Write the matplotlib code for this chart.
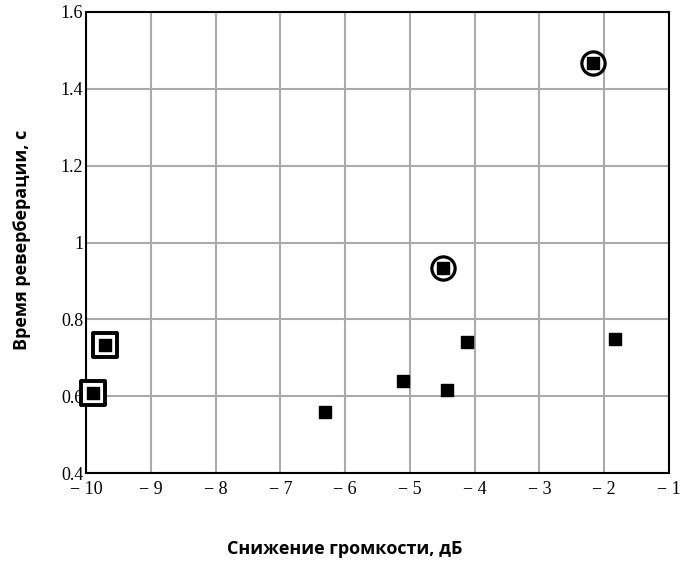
import matplotlib
matplotlib.use("Agg")
import matplotlib.pyplot as plt

x_vals = [-2.18, -4.49, -9.71, -9.89, -6.31, -5.11, -4.42, -4.12, -1.83]
y_vals = [1.467, 0.933, 0.733, 0.608, 0.558, 0.639, 0.616, 0.740, 0.748]
circled_x = [-2.18, -4.49]
circled_y = [1.467, 0.933]
boxed_x = [-9.71, -9.89]
boxed_y = [0.733, 0.608]

x_ticks = [-10, -9, -8, -7, -6, -5, -4, -3, -2, -1]
x_ticklabels = ["\u2212 10", "\u2212 9", "\u2212 8", "\u2212 7", "\u2212 6", "\u2212 5", "\u2212 4", "\u2212 3", "\u2212 2", "\u2212 1"]
y_ticks = [0.4, 0.6, 0.8, 1.0, 1.2, 1.4, 1.6]
y_ticklabels = ["0.4", "0.6", "0.8", "1", "1.2", "1.4", "1.6"]

fig = plt.figure(figsize=(6.88, 5.63), dpi=100)
ax = fig.add_axes([86/688, 1 - 473/563, (669-86)/688, (473-12)/563])

ax.set_xlim(-10, -1)
ax.set_ylim(0.4, 1.6)
ax.set_xticks(x_ticks)
ax.set_xticklabels(x_ticklabels, fontfamily="Liberation Serif", fontsize=13)
ax.set_yticks(y_ticks)
ax.set_yticklabels(y_ticklabels, fontfamily="Liberation Serif", fontsize=13)
ax.tick_params(axis="x", length=0, pad=6)
ax.tick_params(axis="y", length=0, pad=2)
for lbl in ax.get_yticklabels():
    lbl.set_verticalalignment("center_baseline")
ax.grid(True, color="#aaaaaa", linewidth=1.5)
ax.set_axisbelow(True)
for s in ax.spines.values():
    s.set_linewidth(1.5)
    s.set_color("black")

ax.scatter(circled_x, circled_y, s=280, marker="o", facecolors="white", edgecolors="black", linewidths=2.3, zorder=3, clip_on=False)
ax.scatter(boxed_x, boxed_y, s=300, marker="s", facecolors="white", edgecolors="black", linewidths=2.8, zorder=3, clip_on=False)
ax.scatter(x_vals, y_vals, s=75, marker="s", color="black", zorder=4, clip_on=False)

fig.text(345/688, 1 - 549/563, "Снижение громкости, дБ", ha="center", va="center",
         fontfamily="Open Sans", fontweight="bold", fontsize=13)
fig.text(22/688, 1 - 240/563, "Время реверберации, с", ha="center", va="center",
         rotation=90, fontfamily="Open Sans", fontweight="bold", fontsize=13)

fig.savefig("out.png", dpi=100)
